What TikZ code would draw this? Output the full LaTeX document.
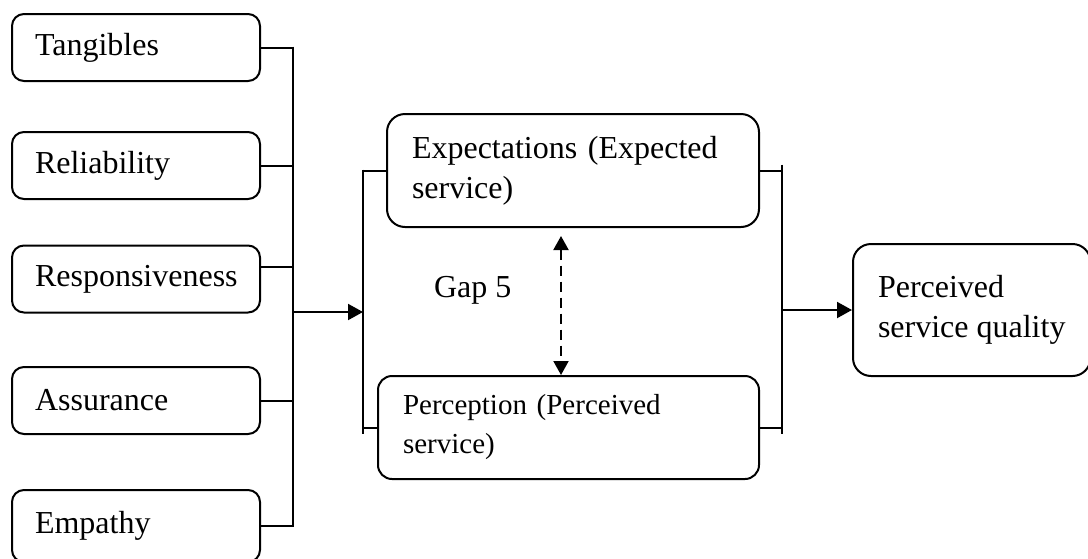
\documentclass[tikz,border=0pt]{standalone}
\usepackage{fontspec}
\setmainfont{Liberation Serif}
\usepackage{tikz}
\usetikzlibrary{arrows.meta,positioning,calc}

\begin{document}
\begin{tikzpicture}[
    x=0.5pt, y=-0.5pt,
    line width=1pt,
    dimbox/.style={rectangle, draw, rounded corners=6pt, align=left,
        minimum height=33.5pt, inner xsep=11.5pt, text width=101pt,
        font=\fontsize{16}{20}\selectfont},
    gapbox/.style={rectangle, draw, rounded corners=9pt, align=left,
        inner xsep=12.5pt, font=\fontsize{16}{20}\selectfont},
    link/.style={-{Triangle[length=7.5pt,width=8pt]}},
    gaparrow/.style={{Triangle[length=7pt,width=7.5pt]}-{Triangle[length=7pt,width=7.5pt]}, dash pattern=on 5pt off 3pt}
]
\useasboundingbox (0,0) rectangle (1088,558);

% service quality dimensions
\node[dimbox] (tang) at (136,47.5) {Tangibles};
\node[dimbox] (rel) at (136,165.5) {Reliability};
\node[dimbox] (resp) at (136,279) {Responsiveness};
\node[dimbox] (assu) at (136,400.5) {Assurance};
\node[dimbox, minimum height=36pt] (emp) at (136,526) {Empathy};

% expectation vs perception
\node[gapbox, text width=161pt, minimum height=56.5pt] (exp) at (573,170.5) {Expectations (Expected\\service)};
\node[gapbox, text width=165.5pt, minimum height=51.5pt, rounded corners=7pt,
      font=\fontsize{14.5}{19.5}\selectfont] (perc) at (568.5,427.5) {Perception (Perceived\\service)};
\node[gapbox, anchor=west, minimum width=117.5pt, minimum height=66pt, inner xsep=12.5pt] (psq) at (852,310) {Perceived\\service quality};
\node[anchor=base west, inner sep=0pt, font=\fontsize{16}{20}\selectfont] (gap) at (433,297) {Gap 5};

\coordinate (busL) at (293,0);
\coordinate (busM) at (363,0);
\coordinate (busR) at (782,0);
\coordinate (gapx) at (561,0);

% left bus
\draw (tang.east) -- (tang.east -| busL);
\draw (rel.east) -- (rel.east -| busL);
\draw ([yshift=6pt]resp.east) -- ([yshift=6pt]resp.east -| busL);
\draw (assu.east) -- (assu.east -| busL);
\draw (emp.east) -- (emp.east -| busL);
\draw ([yshift=0.5pt]tang.east -| busL) -- ([yshift=-0.5pt]emp.east -| busL);
\draw[link] (293,312) -- (363,312);

% middle brackets
\draw (exp.west) -- (exp.west -| busM);
\draw ([yshift=0.5pt]exp.west -| busM) -- ([yshift=-3pt]perc.west -| busM);
\draw (perc.west) -- (perc.west -| busM);
\draw (exp.east) -- (exp.east -| busR);
\draw (perc.east) -- (perc.east -| busR);
\draw ([yshift=3pt]exp.east -| busR) -- ([yshift=-3pt]perc.east -| busR);
\draw[link] (782,310) -- (psq.west);

% gap 5
\draw[gaparrow] ([yshift=-4pt]exp.south -| gapx) -- (perc.north -| gapx);
\end{tikzpicture}
\end{document}
